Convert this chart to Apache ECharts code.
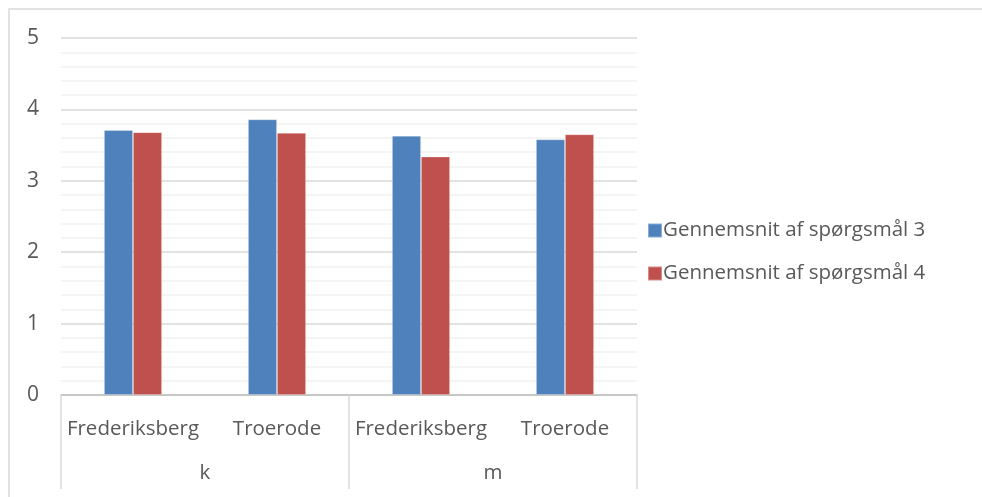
<!DOCTYPE html>
<html>
<head>
<meta charset="utf-8">
<script src="https://cdn.jsdelivr.net/npm/echarts@6/dist/echarts.min.js"></script>
<style>
  html, body { margin: 0; padding: 0; background: #fff; }
  #chart { width: 982px; height: 497px; }
</style>
</head>
<body>
<div id="chart"></div>
<script>
// Region categories (inner level) and group categories (outer level)
const regions = ['Frederiksberg', 'Troerode', 'Frederiksberg', 'Troerode'];
const groups = ['k', 'm'];

// Average scores per region and group
const seriesNames = ['Gennemsnit af spørgsmål 3', 'Gennemsnit af spørgsmål 4'];
const q3Values = [3.71, 3.86, 3.63, 3.58];
const q4Values = [3.68, 3.67, 3.34, 3.65];

// Value axis ticks
const yMin = 0;
const yMax = 5;
const yInterval = 1;

const FONT = '"Open Sans", "Noto Sans", sans-serif';
const TEXT = '#595959';

const chart = echarts.init(document.getElementById('chart'), null, { renderer: 'canvas' });

chart.setOption({
  animation: false,
  backgroundColor: '#ffffff',
  color: ['#4F81BD', '#C0504D'],
  graphic: [
    {
      type: 'rect',
      shape: { x: 9, y: 9, width: 1000, height: 520 },
      style: { fill: 'none', stroke: '#d9d9d9', lineWidth: 1.5 },
      silent: true
    }
  ],
  grid: { left: 61, right: 345, top: 38, bottom: 102, containLabel: false },
  legend: {
    orient: 'vertical',
    left: 642,
    top: 215,
    itemWidth: 14,
    itemHeight: 14,
    itemGap: 22,
    icon: 'rect',
    textStyle: { fontFamily: FONT, fontSize: 20.5, lineHeight: 20, color: TEXT, padding: [0, 0, 0, -4] },
    data: seriesNames
  },
  xAxis: [
    {
      type: 'category',
      data: regions,
      position: 'bottom',
      axisLine: { show: true, lineStyle: { color: '#bfbfbf', width: 1.5 } },
      axisTick: { show: false },
      axisLabel: { interval: 0, fontFamily: FONT, fontSize: 20.5, color: TEXT, margin: 24 },
      splitLine: { show: false }
    },
    {
      type: 'category',
      data: groups,
      position: 'bottom',
      axisLine: { show: false },
      axisTick: { show: true, inside: false, length: 94, lineStyle: { color: '#d9d9d9', width: 1.5 } },
      axisLabel: { interval: 0, fontFamily: FONT, fontSize: 20.5, color: TEXT, margin: 68 },
      splitLine: { show: false }
    }
  ],
  yAxis: {
    type: 'value',
    min: yMin,
    max: yMax,
    interval: yInterval,
    axisLine: { show: false },
    axisTick: { show: false },
    axisLabel: { fontFamily: FONT, fontSize: 21, color: TEXT, margin: 22 },
    splitLine: { show: true, lineStyle: { color: '#d9d9d9', width: 1.5 } },
    minorTick: { show: false, splitNumber: 5 },
    minorSplitLine: { show: true, lineStyle: { color: '#f2f2f2', width: 1.5 } }
  },
  series: [
    {
      name: seriesNames[0],
      type: 'bar',
      data: q3Values,
      barWidth: 29,
      barGap: '0%',
      itemStyle: { borderColor: 'rgba(255,255,255,0.35)', borderWidth: 0.8 }
    },
    {
      name: seriesNames[1],
      type: 'bar',
      data: q4Values,
      barWidth: 29,
      barGap: '0%',
      itemStyle: { borderColor: 'rgba(255,255,255,0.35)', borderWidth: 0.8 }
    }
  ]
});
</script>
</body>
</html>
